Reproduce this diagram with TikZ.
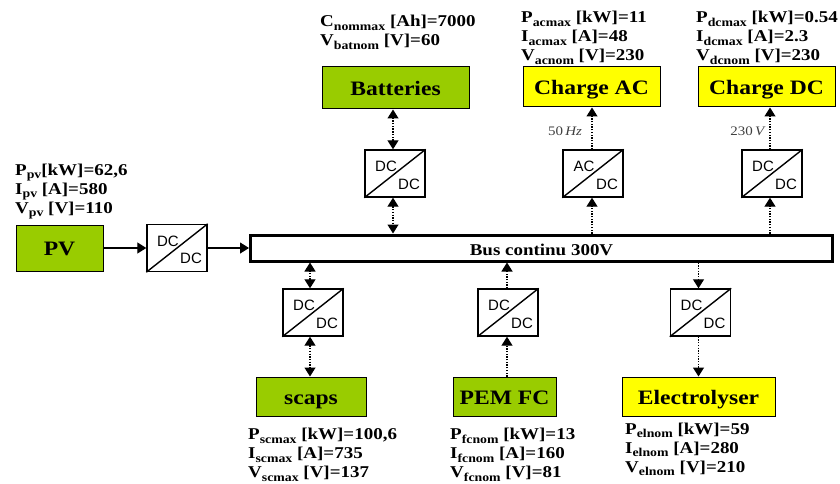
\documentclass[tikz,border=0pt]{standalone}
\usepackage{fontspec}
\setmainfont[FakeStretch=1.15]{Liberation Serif}
\setsansfont{Liberation Sans}
\usepackage{tikz}
\usetikzlibrary{arrows.meta,positioning}
\definecolor{srcgreen}{HTML}{99CC00}
\definecolor{loadyellow}{HTML}{FFFF00}
\newcommand{\low}[1]{\raisebox{-0.45ex}{\fontsize{12}{12}\selectfont #1}}
\begin{document}
\begin{tikzpicture}[x=1pt,y=-1pt,
 srcbox/.style={draw=black,line width=1pt,fill=srcgreen,inner sep=0pt,text height=15.5pt,text depth=0.5pt,font=\bfseries\fontsize{20.5}{20.5}\selectfont},
 loadbox/.style={srcbox,fill=loadyellow},
 convbox/.style={draw=black,line width=1.4pt,fill=white,minimum width=60pt,minimum height=47pt,inner sep=0pt},
 convtext/.style={font=\sffamily\fontsize{15}{15}\selectfont,inner sep=0pt},
 spec/.style={anchor=north west,align=left,inner sep=0pt,font=\bfseries\fontsize{16.5}{19}\selectfont},
 freq/.style={font=\fontsize{13}{13}\selectfont,text=black!75,inner sep=0pt},
 wire/.style={-{Triangle[length=9pt,width=11pt]},line width=1.2pt},
 dotwire/.style={wire,dash pattern=on 1.3pt off 1.4pt},
 bothwire/.style={{Triangle[length=9pt,width=11pt]}-{Triangle[length=9pt,width=11pt]},line width=1.2pt,dash pattern=on 1.3pt off 1.4pt}]
\useasboundingbox (0,0) rectangle (840,484);
\node[draw=black,line width=3pt,fill=white,minimum width=582pt,minimum height=26pt,inner sep=0pt,text height=14pt,text depth=0pt,font=\bfseries\fontsize{16.5}{16.5}\selectfont] (bus) at (541.5,248) {Bus continu 300V};
\node[srcbox,minimum width=87pt,minimum height=46pt] (pv) at (59.5,248) {PV};
\node[srcbox,minimum width=147pt,minimum height=42pt] (batteries) at (395.5,88) {Batteries};
\node[loadbox,minimum width=137pt,minimum height=40pt] (chargeac) at (591.5,87) {Charge AC};
\node[loadbox,minimum width=137pt,minimum height=40pt] (chargedc) at (766.5,87) {Charge DC};
\node[srcbox,minimum width=110pt,minimum height=39pt] (scaps) at (311,396.5) {scaps};
\node[srcbox,minimum width=103pt,minimum height=39pt] (pemfc) at (504.5,396.5) {PEM FC};
\node[loadbox,minimum width=153pt,minimum height=39pt] (electrolyser) at (698.5,396.5) {Electrolyser};
% converters
\foreach \conv/\x/\y/\upper in {convpv/177/248/DC,convbat/395/173.5/DC,convac/593/173.5/AC,convdc/772/173.5/DC,convsc/313/312.5/DC,convfc/508/312.5/DC,convel/700.5/312.5/DC}{
 \node[convbox] (\conv) at (\x,\y) {};
 \draw[line width=1.4pt] (\conv.south west) -- (\conv.north east);
 \node[convtext] (\conv up) at ([xshift=-9pt,yshift=7pt]\conv.center) {\upper};
 \node[convtext] (\conv down) at ([xshift=14pt,yshift=-10.5pt]\conv.center) {DC};
}
\draw[wire] (pv) -- (convpv);
\draw[wire] (convpv) -- (convpv -| bus.west);
\draw[bothwire] ([xshift=-2pt]convbat.north) -- ([xshift=-2pt]convbat.north |- batteries.south);
\draw[bothwire] ([xshift=-2pt]convbat.south) -- ([xshift=-2pt]convbat.south |- bus.north);
\draw[dotwire] ([xshift=-1pt]convac.north) -- ([xshift=-1pt]convac.north |- chargeac.south);
\draw[dotwire] ([xshift=-1pt]convac.south |- bus.north) -- ([xshift=-1pt]convac.south);
\draw[dotwire] ([xshift=-2pt]convdc.north) -- ([xshift=-2pt]convdc.north |- chargedc.south);
\draw[dotwire] ([xshift=-2pt]convdc.south |- bus.north) -- ([xshift=-2pt]convdc.south);
\draw[bothwire] ([xshift=-3pt]convsc.north) -- ([xshift=-3pt]convsc.north |- bus.south);
\draw[bothwire] ([xshift=-3pt]convsc.south) -- ([xshift=-3pt]convsc.south |- scaps.north);
\draw[dotwire] ([xshift=-1pt]convfc.north) -- ([xshift=-1pt]convfc.north |- bus.south);
\draw[dotwire] ([xshift=-1pt]convfc.south |- pemfc.north) -- ([xshift=-1pt]convfc.south);
\draw[dotwire] ([xshift=-2pt]convel.north |- bus.south) -- ([xshift=-2pt]convel.north);
\draw[dotwire] ([xshift=-2pt]convel.south) -- ([xshift=-2pt]convel.south |- electrolyser.north);
\node[freq] (freqac) at (565,131) {50\,\textit{Hz}};
\node[freq] (voltdc) at (748,131) {230\,\textit{V}};
% ratings
\node[spec] (specpv) at (15,163.5) {P\low{pv}[kW]=62,6\\I\low{pv} [A]=580\\V\low{pv} [V]=110};
\node[spec] (specbat) at (320,15) {C\low{nommax} [Ah]=7000\\V\low{batnom} [V]=60};
\node[spec] (specac) at (521,11) {P\low{acmax} [kW]=11\\I\low{acmax} [A]=48\\V\low{acnom} [V]=230};
\node[spec] (specdc) at (696,11) {P\low{dcmax} [kW]=0.54\\I\low{dcmax} [A]=2.3\\V\low{dcnom} [V]=230};
\node[spec] (specsc) at (248,428) {P\low{scmax} [kW]=100,6\\I\low{scmax} [A]=735\\V\low{scmax} [V]=137};
\node[spec] (specfc) at (450,428) {P\low{fcnom} [kW]=13\\I\low{fcnom} [A]=160\\V\low{fcnom} [V]=81};
\node[spec] (specel) at (625,422.5) {P\low{elnom} [kW]=59\\I\low{elnom} [A]=280\\V\low{elnom} [V]=210};
\end{tikzpicture}
\end{document}
